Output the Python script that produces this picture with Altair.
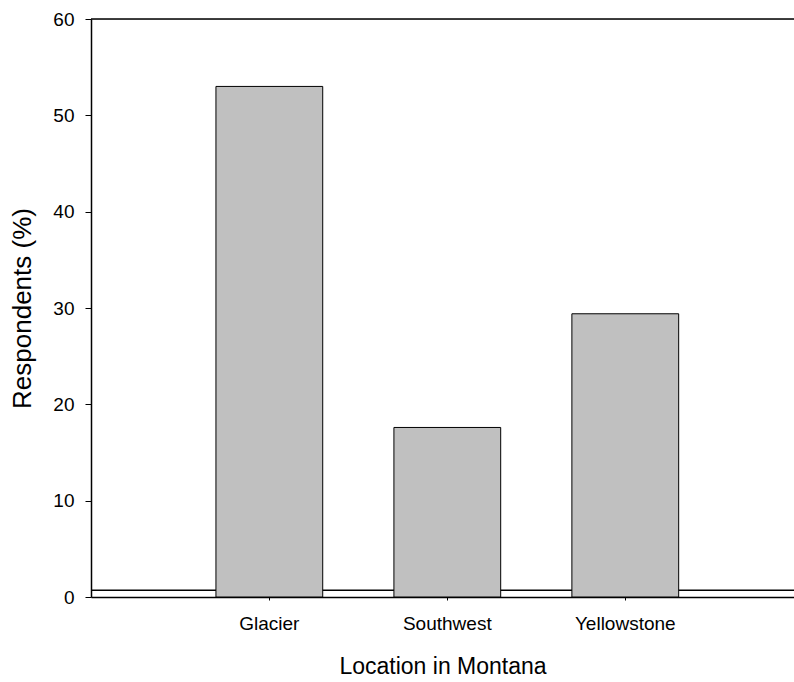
import altair as alt
import pandas as pd

categories = ["Glacier", "Southwest", "Yellowstone"]
values = [53.0, 17.6, 29.4]
baseline_value = [0.7]

df = pd.DataFrame({"Location": categories, "Respondents": values})
base_df = pd.DataFrame({"y": baseline_value})

FONT = "Arial, Liberation Sans"

xscale = alt.Scale(domain=categories, paddingInner=0.4, paddingOuter=0.675, align=0.52)
yscale = alt.Scale(domain=[0, 60], nice=False)

bars = alt.Chart(df).mark_bar(color="#c0c0c0", stroke="black", strokeWidth=1).encode(
    x=alt.X("Location:N", scale=xscale, sort=categories,
            axis=alt.Axis(title="Location in Montana", labelAngle=0, domainColor="black",
                          domainWidth=1.5, tickColor="black", tickSize=3, labelPadding=14,
                          labelFontSize=19, labelFont=FONT, labelColor="black",
                          titleFont=FONT, titleFontSize=23, titleFontWeight="normal",
                          titleColor="black", titlePadding=22, grid=False)),
    y=alt.Y("Respondents:Q", scale=yscale,
            axis=alt.Axis(title="Respondents (%)", values=[0, 10, 20, 30, 40, 50, 60],
                          domainColor="black", domainWidth=1.5, tickColor="black",
                          tickSize=6, labelPadding=11, labelFontSize=19, labelFont=FONT,
                          labelColor="black", titleFont=FONT, titleFontSize=26,
                          titleFontWeight="normal", titleColor="black", titlePadding=17,
                          grid=False)),
)

baseline = alt.Chart(base_df).mark_rule(color="black", strokeWidth=1.5).encode(
    y=alt.Y("y:Q", scale=yscale)
)

top = alt.Chart(base_df).mark_rule(color="black", strokeWidth=1.5).encode(
    y=alt.value(0)
)

chart = alt.layer(baseline, top, bars).properties(
    width=703, height=578,
    padding={"left": 91, "top": 19, "right": 0, "bottom": 85},
    autosize=alt.AutoSizeParams(type="none"),
).configure_view(stroke=None).configure(background="white")

chart.save("out.html", embed_options={"renderer": "svg", "actions": False})
